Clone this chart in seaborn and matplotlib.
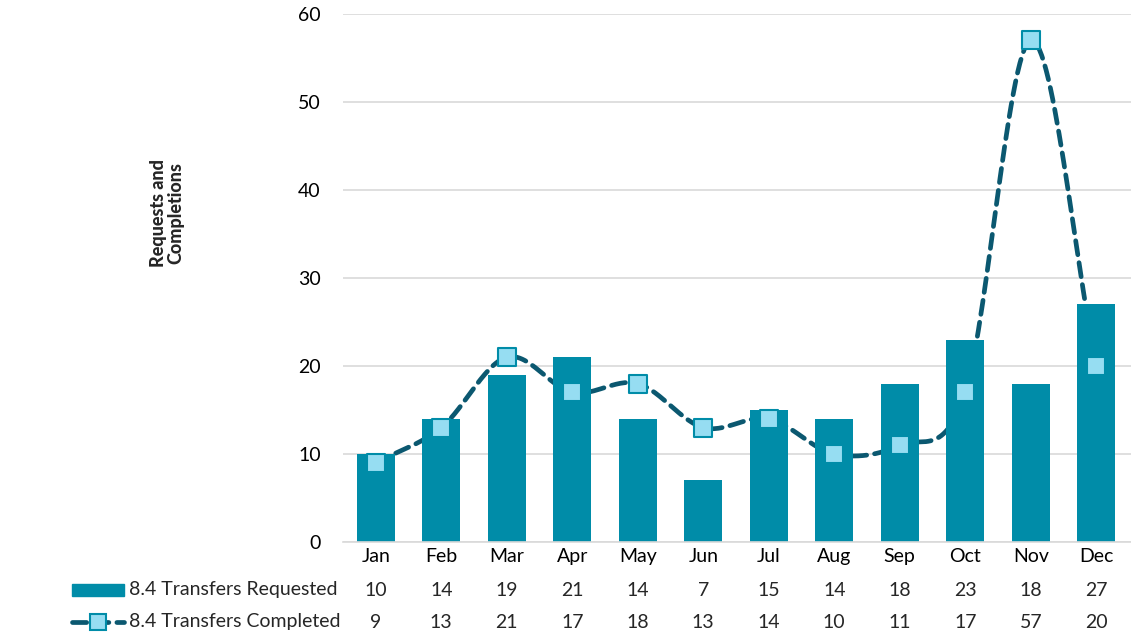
import numpy as np
import pandas as pd
import matplotlib
matplotlib.use("Agg")
import matplotlib.pyplot as plt
import seaborn as sns
from matplotlib.lines import Line2D
from matplotlib.patches import Rectangle

sns.set_theme(style="white")
plt.rcParams['font.family'] = ['Lato', 'DejaVu Sans']

# data
months = ['Jan', 'Feb', 'Mar', 'Apr', 'May', 'Jun', 'Jul', 'Aug', 'Sep', 'Oct', 'Nov', 'Dec']
requested = [10, 14, 19, 21, 14, 7, 15, 14, 18, 23, 18, 27]
completed = [9, 13, 21, 17, 18, 13, 14, 10, 11, 17, 57, 20]
req_label = '8.4 Transfers Requested'
comp_label = '8.4 Transfers Completed'

bar_color = '#008CA8'
line_color = '#0B5870'
marker_face = '#96DDF2'
fs = 14

df = pd.DataFrame({'month': months, 'requested': requested, 'completed': completed})


def catmull_rom(y, n=30):
    # smooth curve through points (like Excel's smoothed line)
    p = np.concatenate([[2 * y[0] - y[1]], y, [2 * y[-1] - y[-2]]]).astype(float)
    xs, ys = [], []
    for i in range(1, len(p) - 2):
        t = np.linspace(0, 1, n, endpoint=False)
        p0, p1, p2, p3 = p[i - 1], p[i], p[i + 1], p[i + 2]
        seg = 0.5 * ((2 * p1) + (-p0 + p2) * t + (2 * p0 - 5 * p1 + 4 * p2 - p3) * t ** 2
                     + (-p0 + 3 * p1 - 3 * p2 + p3) * t ** 3)
        xs.append(i - 1 + t)
        ys.append(seg)
    xs.append([len(y) - 1])
    ys.append([y[-1]])
    return np.concatenate(xs), np.concatenate(ys)


fig = plt.figure(figsize=(11.31, 6.39), dpi=100)
ax = fig.add_axes([343 / 1131, 1 - 542 / 639, (1131 - 343) / 1131, (542 - 14) / 639])

sx, sy = catmull_rom(np.array(completed))
ax.plot(sx, sy, color=line_color, lw=3.4, ls=(0, (3, 1.7)), zorder=1,
        dash_capstyle='round')
sns.barplot(data=df, x='month', y='requested', color=bar_color, width=0.58,
            saturation=1, linewidth=0, ax=ax, zorder=2)
ax.scatter(range(len(months)), completed, marker='s', s=170, facecolor=marker_face,
           edgecolor=bar_color, linewidth=1.5, zorder=3)

ax.set_ylim(0, 60)
ax.set_xlim(-0.5, len(months) - 0.5 + 0.03)
ax.set_yticks(range(0, 61, 10))
ax.yaxis.grid(True, color='#D9D9D9', lw=1.2)
ax.set_axisbelow(True)
for s in ['top', 'right', 'left']:
    ax.spines[s].set_visible(False)
ax.spines['bottom'].set_color('#D9D9D9')
ax.spines['bottom'].set_linewidth(1.2)
ax.tick_params(axis='both', length=0, labelsize=fs, colors='black')
ax.tick_params(axis='y', pad=16)
ax.tick_params(axis='x', pad=4)
ax.set_xlabel('')
ax.set_ylabel('')

fig.text(167 / 1131, 1 - 213 / 639, 'Requests and\nCompletions', rotation=90,
         ha='center', va='center', fontsize=13, fontweight='black', linespacing=1.0)

# data table rows under the categories
row_y = [1 - 590 / 639, 1 - 622 / 639]
for i in range(len(months)):
    xd = ax.transData.transform((i, 0))[0] / fig.bbox.width
    fig.text(xd, row_y[0], str(requested[i]), ha='center', va='center', fontsize=fs)
    fig.text(xd, row_y[1], str(completed[i]), ha='center', va='center', fontsize=fs)

fig.text(129 / 1131, row_y[0], req_label, ha='left', va='center', fontsize=fs)
fig.text(129 / 1131, row_y[1], comp_label, ha='left', va='center', fontsize=fs)
fig.patches.append(Rectangle((72 / 1131, 1 - 596 / 639), 52 / 1131, 12 / 639,
                             transform=fig.transFigure, color=bar_color))
fig.lines.append(Line2D([72 / 1131, 124 / 1131], [row_y[1], row_y[1]], transform=fig.transFigure,
                        color=line_color, lw=3.4, ls=(0, (3, 1.7)), dash_capstyle='round'))
fig.lines.append(Line2D([98 / 1131], [row_y[1]], transform=fig.transFigure, marker='s',
                        markersize=12, markerfacecolor=marker_face, markeredgecolor=bar_color,
                        markeredgewidth=1.5, ls='none'))

fig.savefig('out.png', dpi=100)
